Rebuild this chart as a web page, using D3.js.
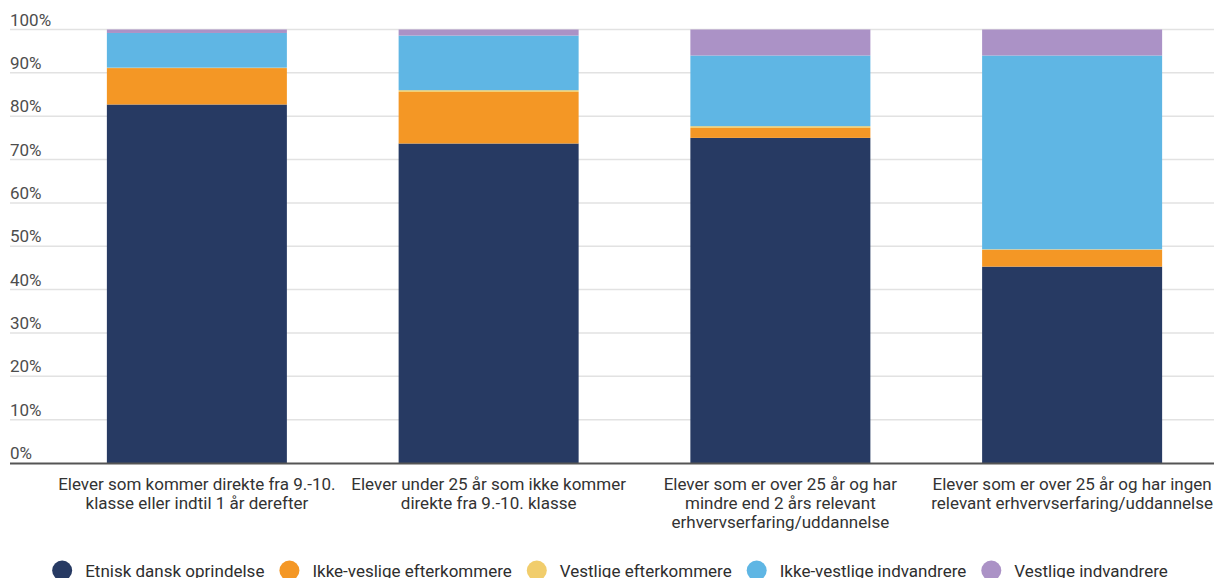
<!DOCTYPE html>
<html><head><meta charset="utf-8">
<script src="https://cdn.jsdelivr.net/npm/d3@7"></script>
<style>html,body{margin:0;padding:0;background:#fff;overflow:hidden}svg{display:block;font-family:Roboto,"Noto Sans",sans-serif}</style>
</head><body><svg id="c" width="1214" height="578"></svg>
<script>
const categories = [
  "Elever som kommer direkte fra 9.-10.\nklasse eller indtil 1 år derefter",
  "Elever under 25 år som ikke kommer\ndirekte fra 9.-10. klasse",
  "Elever som er over 25 år og har\nmindre end 2 års relevant\nerhvervserfaring/uddannelse",
  "Elever som er over 25 år og har ingen\nrelevant erhvervserfaring/uddannelse"
];
const seriesNames = ["Etnisk dansk oprindelse","Ikke-veslige efterkommere","Vestlige efterkommere","Ikke-vestlige indvandrere","Vestlige indvandrere"];
const etniskDansk = [82.7, 73.7, 75.0, 45.3];
const ikkeVestligeEfterkommere = [8.4, 11.9, 2.3, 3.9];
const vestligeEfterkommere = [0.1, 0.4, 0.4, 0.1];
const ikkeVestligeIndvandrere = [8.0, 12.6, 16.3, 44.7];
const vestligeIndvandrere = [0.8, 1.4, 6.0, 6.0];
const yTicks = [0,10,20,30,40,50,60,70,80,90,100];
const colors = ["#273a63","#f49725","#f1cd6c","#5fb6e4","#ab92c6"];

const seriesValues = [etniskDansk, ikkeVestligeEfterkommere, vestligeEfterkommere, ikkeVestligeIndvandrere, vestligeIndvandrere];
const rows = categories.map((c,i)=>{const r={cat:c}; seriesNames.forEach((s,j)=>r[s]=seriesValues[j][i]); return r;});
const stack = d3.stack().keys(seriesNames)(rows);

const svg = d3.select("#c");
const x = d3.scaleBand().domain(categories).range([51,1218]).paddingInner(0.383).paddingOuter(0.1915);
const y = d3.scaleLinear().domain([0,100]).range([463,29.5]);

// gridlines + labels
const g = svg.append("g");
g.selectAll("line.grid").data(yTicks.filter(t=>t>0)).join("line")
  .attr("x1",10).attr("x2",1214).attr("y1",d=>y(d)).attr("y2",d=>y(d))
  .attr("stroke","#e2e2e2").attr("stroke-width",1.5);
g.selectAll("text.yl").data(yTicks).join("text")
  .attr("x",10).attr("y",d=>y(d)-4).attr("font-size",17).attr("fill","#4d4d4d")
  .text(d=>d+"%");

// bars
svg.append("g").selectAll("g").data(stack).join("g").attr("fill",(d,i)=>colors[i])
  .selectAll("rect").data(d=>d).join("rect")
  .attr("x",d=>x(d.data.cat)).attr("width",x.bandwidth())
  .attr("y",d=>y(d[1])).attr("height",d=>y(d[0])-y(d[1]));

// baseline
svg.append("line").attr("x1",10).attr("x2",1214).attr("y1",463.5).attr("y2",463.5)
  .attr("stroke","#555").attr("stroke-width",2);

// x labels
const xl = svg.append("g").selectAll("text").data(categories).join("text")
  .attr("text-anchor","middle").attr("font-size",17).attr("fill","#333")
  .attr("transform",d=>`translate(${x(d)+x.bandwidth()/2},490)`);
xl.selectAll("tspan").data(d=>d.split("\n")).join("tspan")
  .attr("x",0).attr("dy",(d,i)=>i===0?0:19).text(d=>d);

// legend
const lg = svg.append("g");
const items = lg.selectAll("g").data(seriesNames).join("g");
items.append("circle").attr("r",10).attr("cy",0).attr("fill",(d,i)=>colors[i]);
items.append("text").attr("x",23).attr("y",6).attr("font-size",17).attr("fill","#2e2e2e").text(d=>d);
let cx = 0; const pos=[];
items.each(function(d,i){
  const w = d3.select(this).select("text").node().getComputedTextLength();
  pos.push(cx); cx += 23 + w + 15 + 10;
});
const total = cx - 15 - 10;
const start = (1214 - (total+10))/2 + 10 + 3;
items.attr("transform",(d,i)=>`translate(${start+pos[i]},570.5)`);
</script></body></html>
